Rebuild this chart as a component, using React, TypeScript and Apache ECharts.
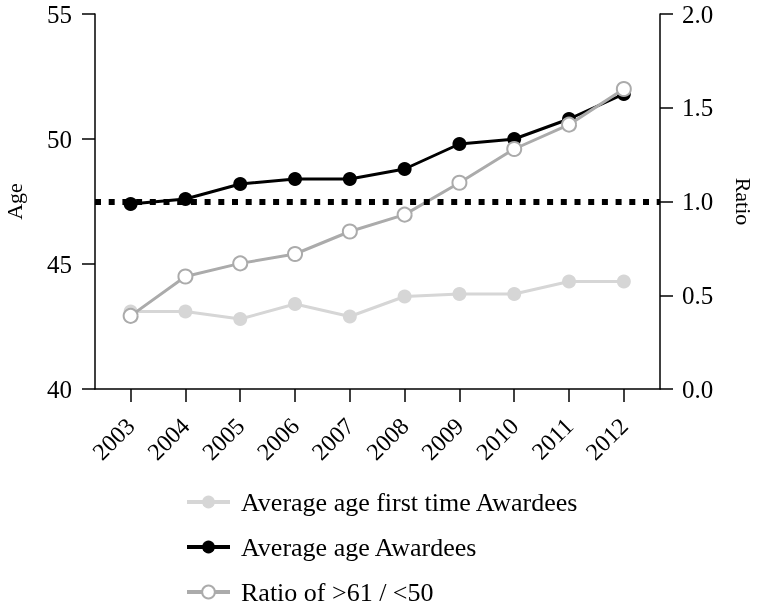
import React, { useEffect, useRef } from "react";
import * as echarts from "echarts";

const years = [2003, 2004, 2005, 2006, 2007, 2008, 2009, 2010, 2011, 2012];
const firstTimeAge = [43.1, 43.1, 42.8, 43.4, 42.9, 43.7, 43.8, 43.8, 44.3, 44.3];
const awardeeAge = [47.4, 47.6, 48.2, 48.4, 48.4, 48.8, 49.8, 50.0, 50.8, 51.8];
const ratio = [0.39, 0.6, 0.67, 0.72, 0.84, 0.93, 1.1, 1.28, 1.41, 1.6];
const ageTicks = [40, 45, 50, 55];
const ratioTicks = [0, 0.5, 1.0, 1.5, 2.0];
const referenceRatio = 1.0;

const FONT = "'Liberation Serif', 'Times New Roman', serif";

export default function App() {
  const ref = useRef<HTMLDivElement>(null);
  useEffect(() => {
    if (!ref.current) return;
    const chart = echarts.init(ref.current, undefined, { renderer: "svg" });
    const pair = (arr: number[]) => years.map((y, i) => [y, arr[i]]);
    const axisLine = { show: true, lineStyle: { color: "#000", width: 1.5 } };
    const axisTick = { show: true, length: 13, lineStyle: { color: "#000", width: 1.5 } };
    chart.setOption({
      animation: false,
      textStyle: { fontFamily: FONT },
      grid: {
        left: 95,
        right: 98,
        top: 14,
        bottom: 219,
        containLabel: false,
        outerBoundsMode: "none",
      },
      legend: {
        orient: "vertical",
        left: 185,
        top: 489,
        padding: 0,
        itemWidth: 43,
        itemHeight: 16,
        itemGap: 19,
        textStyle: { fontFamily: FONT, fontSize: 26, color: "#000", padding: [0, 0, 0, 6] },
        data: [
          { name: "Average age first time Awardees", lineStyle: { width: 4 } },
          { name: "Average age Awardees", lineStyle: { width: 4 } },
          { name: "Ratio of >61 / <50", lineStyle: { width: 4 } },
        ],
      },
      xAxis: {
        type: "value",
        min: 2002.35,
        max: 2012.66,
        splitLine: { show: false },
        axisLine,
        axisTick: { ...axisTick, customValues: years },
        axisLabel: {
          customValues: years,
          rotate: 45,
          margin: 33,
          fontFamily: FONT,
          fontSize: 24,
          color: "#000",
          formatter: (v: number) => String(v),
        },
      },
      yAxis: [
        {
          type: "value",
          min: ageTicks[0],
          max: ageTicks[ageTicks.length - 1],
          interval: 5,
          name: "Age",
          nameLocation: "middle",
          nameGap: 70,
          nameRotate: 90,
          nameTextStyle: { fontFamily: FONT, fontSize: 22, color: "#000" },
          splitLine: { show: false },
          axisLine,
          axisTick,
          axisLabel: { margin: 23, fontFamily: FONT, fontSize: 25, color: "#000" },
        },
        {
          type: "value",
          position: "right",
          min: ratioTicks[0],
          max: ratioTicks[ratioTicks.length - 1],
          interval: 0.5,
          name: "Ratio",
          nameLocation: "middle",
          nameGap: 72,
          nameRotate: -90,
          nameTextStyle: { fontFamily: FONT, fontSize: 22, color: "#000" },
          splitLine: { show: false },
          axisLine,
          axisTick,
          axisLabel: {
            margin: 22,
            fontFamily: FONT,
            fontSize: 25,
            color: "#000",
            formatter: (v: number) => v.toFixed(1),
          },
        },
      ],
      series: [
        {
          name: "Average age first time Awardees",
          type: "line",
          yAxisIndex: 0,
          data: pair(firstTimeAge),
          symbol: "circle",
          symbolSize: 14,
          itemStyle: { color: "#d6d6d6" },
          lineStyle: { color: "#d6d6d6", width: 3 },
          z: 2,
        },
        {
          name: "Average age Awardees",
          type: "line",
          yAxisIndex: 0,
          data: pair(awardeeAge),
          symbol: "circle",
          symbolSize: 14,
          itemStyle: { color: "#000" },
          lineStyle: { color: "#000", width: 3 },
          z: 3,
        },
        {
          name: "Ratio of >61 / <50",
          type: "line",
          yAxisIndex: 1,
          data: pair(ratio),
          symbol: "emptyCircle",
          symbolSize: 14,
          itemStyle: { color: "#ababab", borderWidth: 3, borderColor: "#ababab" },
          lineStyle: { color: "#ababab", width: 3 },
          z: 4,
          markLine: {
            silent: true,
            symbol: ["none", "none"],
            label: { show: false },
            lineStyle: { color: "#000", width: 6, type: [6, 7.7] },
            data: [{ yAxis: referenceRatio }],
          },
        },
      ],
    });
    return () => chart.dispose();
  }, []);
  return (
    <div
      ref={ref}
      style={{ position: "fixed", left: 0, top: 0, width: 758, height: 608 }}
    />
  );
}
